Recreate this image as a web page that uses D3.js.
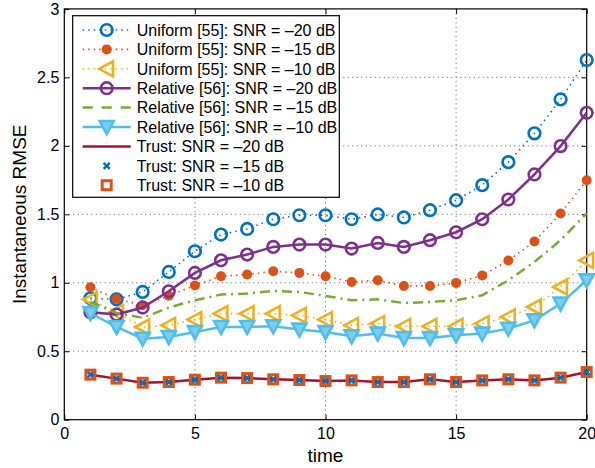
<!DOCTYPE html>
<html><head><meta charset="utf-8">
<script src="https://cdn.jsdelivr.net/npm/d3@7"></script>
<style>body{margin:0;background:#fff}svg{display:block;font-family:"Liberation Sans",Arial,sans-serif}</style>
</head><body><svg id="c" width="595" height="468"></svg>
<script>
const time = d3.range(1, 21);
const xTicks = [0, 5, 10, 15, 20];
const yTicks = [0, 0.5, 1, 1.5, 2, 2.5, 3];
const yTickLabels = ["0", "0.5", "1", "1.5", "2", "2.5", "3"];

const uniform20 = [0.887,0.879,0.933,1.079,1.230,1.352,1.393,1.464,1.493,1.493,1.464,1.499,1.477,1.530,1.603,1.713,1.881,2.091,2.339,2.627];
const uniform15 = [0.967,0.882,0.836,0.905,0.980,1.048,1.060,1.084,1.072,1.048,1.006,1.018,0.977,0.977,0.999,1.053,1.162,1.301,1.506,1.749];
const uniform10 = [0.877,0.784,0.677,0.689,0.731,0.775,0.775,0.775,0.762,0.731,0.689,0.702,0.682,0.682,0.682,0.702,0.750,0.823,0.969,1.164];
const relative20 = [0.784,0.768,0.819,0.938,1.072,1.164,1.206,1.262,1.279,1.279,1.250,1.291,1.262,1.311,1.369,1.464,1.608,1.791,1.998,2.241];
const relative15 = [0.861,0.779,0.744,0.819,0.872,0.914,0.921,0.940,0.933,0.904,0.872,0.879,0.852,0.860,0.872,0.909,1.018,1.152,1.311,1.506];
const relative10 = [0.779,0.677,0.592,0.604,0.640,0.677,0.677,0.682,0.658,0.640,0.609,0.629,0.596,0.596,0.616,0.629,0.665,0.726,0.848,1.018];
const trust20 = [0.329,0.300,0.270,0.275,0.292,0.307,0.304,0.295,0.290,0.282,0.287,0.275,0.275,0.295,0.275,0.287,0.295,0.287,0.307,0.348];
const trust15 = [0.329,0.300,0.270,0.275,0.292,0.307,0.304,0.295,0.290,0.282,0.287,0.275,0.275,0.295,0.275,0.287,0.295,0.287,0.307,0.348];
const trust10 = [0.329,0.300,0.270,0.275,0.292,0.307,0.304,0.295,0.290,0.282,0.287,0.275,0.275,0.295,0.275,0.287,0.295,0.287,0.307,0.348];

const seriesNames = ["Uniform [55]: SNR = \u201320 dB","Uniform [55]: SNR = \u201315 dB","Uniform [55]: SNR = \u201310 dB",
 "Relative [56]: SNR = \u201320 dB","Relative [56]: SNR = \u201315 dB","Relative [56]: SNR = \u201310 dB",
 "Trust: SNR = \u201320 dB","Trust: SNR = \u201315 dB","Trust: SNR = \u201310 dB"];

const series = [
 {name: seriesNames[0], values: uniform20, color: "#0072BD", line: "dot", marker: "circle"},
 {name: seriesNames[1], values: uniform15, color: "#D95319", line: "dot", marker: "dot"},
 {name: seriesNames[2], values: uniform10, color: "#EDB120", line: "dot", marker: "left"},
 {name: seriesNames[3], values: relative20, color: "#7E2F8E", line: "solid", marker: "circle"},
 {name: seriesNames[4], values: relative15, color: "#77AC30", line: "dashdot", marker: null},
 {name: seriesNames[5], values: relative10, color: "#4DBEEE", line: "solid", marker: "down"},
 {name: seriesNames[6], values: trust20, color: "#A2142F", line: "solid", marker: null},
 {name: seriesNames[7], values: trust15, color: "#0072BD", line: null, marker: "x"},
 {name: seriesNames[8], values: trust10, color: "#D95319", line: null, marker: "square"}
];

const L = 64.3, R = 586.7, T = 8.9, B = 419.7;
const svg = d3.select("#c");
const x = d3.scaleLinear().domain([0, 20]).range([L, R]);
const y = d3.scaleLinear().domain([0, 3]).range([B, T]);

// grid
const g = svg.append("g");
xTicks.slice(1, -1).forEach(t => g.append("line").attr("x1", x(t)).attr("x2", x(t)).attr("y1", T).attr("y2", B)
  .attr("stroke", "#333").attr("stroke-width", 0.8).attr("stroke-dasharray", "1,3.5"));
yTicks.slice(1, -1).forEach(t => g.append("line").attr("x1", L).attr("x2", R).attr("y1", y(t)).attr("y2", y(t))
  .attr("stroke", "#333").attr("stroke-width", 0.8).attr("stroke-dasharray", "1,3.5"));

// axes
const ax = svg.append("g").attr("transform", `translate(0,${B})`)
  .call(d3.axisBottom(x).tickValues(xTicks).tickSizeInner(-5).tickSizeOuter(0).tickPadding(8));
const ay = svg.append("g").attr("transform", `translate(${L},0)`)
  .call(d3.axisLeft(y).tickValues(yTicks).tickFormat((d, i) => yTickLabels[i]).tickSizeInner(-5).tickSizeOuter(0).tickPadding(5));
const axt = svg.append("g").attr("transform", `translate(0,${T})`)
  .call(d3.axisTop(x).tickValues(xTicks).tickSizeInner(-5).tickSizeOuter(0).tickFormat(""));
const ayr = svg.append("g").attr("transform", `translate(${R},0)`)
  .call(d3.axisRight(y).tickValues(yTicks).tickSizeInner(-5).tickSizeOuter(0).tickFormat(""));
[ax, ay, axt, ayr].forEach(a => {
  a.select(".domain").remove();
  a.selectAll("line").attr("stroke", "#000").attr("stroke-width", 1);
  a.selectAll("text").attr("font-size", 16).attr("fill", "#000").attr("font-family", "Liberation Sans, Arial, sans-serif");
});
svg.append("rect").attr("x", L).attr("y", T).attr("width", R - L).attr("height", B - T)
  .attr("fill", "none").attr("stroke", "#000").attr("stroke-width", 1.2);

function dashFor(t){ return t === "dot" ? "1.5,4" : t === "dashdot" ? "10,5,2,5" : null; }
function widthFor(t){ return t === "dot" ? 1.6 : 2.5; }

function drawMarker(sel, type, color, cx, cy) {
  if (type === "circle") {
    sel.append("circle").attr("cx", cx).attr("cy", cy).attr("r", 5.8).attr("fill", "none")
      .attr("stroke", color).attr("stroke-width", 2.6);
  } else if (type === "dot") {
    sel.append("circle").attr("cx", cx).attr("cy", cy).attr("r", 5).attr("fill", color);
  } else if (type === "left") {
    const s = 7.5;
    sel.append("path").attr("d", `M${cx - s},${cy} L${cx + s * 0.85},${cy - s} L${cx + s * 0.85},${cy + s} Z`)
      .attr("fill", "none").attr("stroke", color).attr("stroke-width", 2.6).attr("stroke-linejoin", "miter");
  } else if (type === "down") {
    const s = 7;
    sel.append("path").attr("d", `M${cx},${cy + s} L${cx - s},${cy - s * 0.85} L${cx + s},${cy - s * 0.85} Z`)
      .attr("fill", "#7ccdf0").attr("stroke", color).attr("stroke-width", 2.6);
  } else if (type === "x") {
    const s = 3;
    sel.append("path").attr("d", `M${cx - s},${cy - s} L${cx + s},${cy + s} M${cx - s},${cy + s} L${cx + s},${cy - s}`)
      .attr("stroke", color).attr("stroke-width", 2.6);
  } else if (type === "square") {
    const s = 4.5;
    sel.append("rect").attr("x", cx - s).attr("y", cy - s).attr("width", 2 * s).attr("height", 2 * s)
      .attr("fill", "none").attr("stroke", color).attr("stroke-width", 3);
  }
}

const plot = svg.append("g");
const line = d3.line().x((d, i) => x(time[i])).y(d => y(d));
series.forEach(s => {
  const gs = plot.append("g");
  if (s.line) {
    gs.append("path").attr("d", line(s.values)).attr("fill", "none").attr("stroke", s.color)
      .attr("stroke-width", widthFor(s.line)).attr("stroke-dasharray", dashFor(s.line));
  }
  if (s.marker) s.values.forEach((v, i) => drawMarker(gs, s.marker, s.color, x(time[i]), y(v)));
});

// legend
const lg = svg.append("g");
const lx = 72.7, ly = 15.7, lw = 266.6, lh = 181.6;
lg.append("rect").attr("x", lx).attr("y", ly).attr("width", lw).attr("height", lh)
  .attr("fill", "#fff").attr("stroke", "#000").attr("stroke-width", 1.2);
series.forEach((s, i) => {
  const cy = 30 + i * 19.4;
  if (s.line) {
    lg.append("line").attr("x1", 82.7).attr("x2", 130.7).attr("y1", cy).attr("y2", cy)
      .attr("stroke", s.color).attr("stroke-width", widthFor(s.line)).attr("stroke-dasharray", s.line === "dashdot" ? "10,9" : dashFor(s.line));
  }
  if (s.marker) drawMarker(lg, s.marker, s.color, 106.7, cy);
  lg.append("text").attr("x", 136.7).attr("y", cy).attr("dy", "0.36em").attr("font-size", 16)
    .attr("fill", "#000").text(s.name);
});

// axis labels
svg.append("text").attr("x", x(10)).attr("y", 462).attr("text-anchor", "middle").attr("font-size", 19).text("time");
svg.append("text").attr("transform", `translate(26,${(T + B) / 2}) rotate(-90)`).attr("text-anchor", "middle")
  .attr("font-size", 19).text("Instantaneous RMSE");
</script></body></html>
